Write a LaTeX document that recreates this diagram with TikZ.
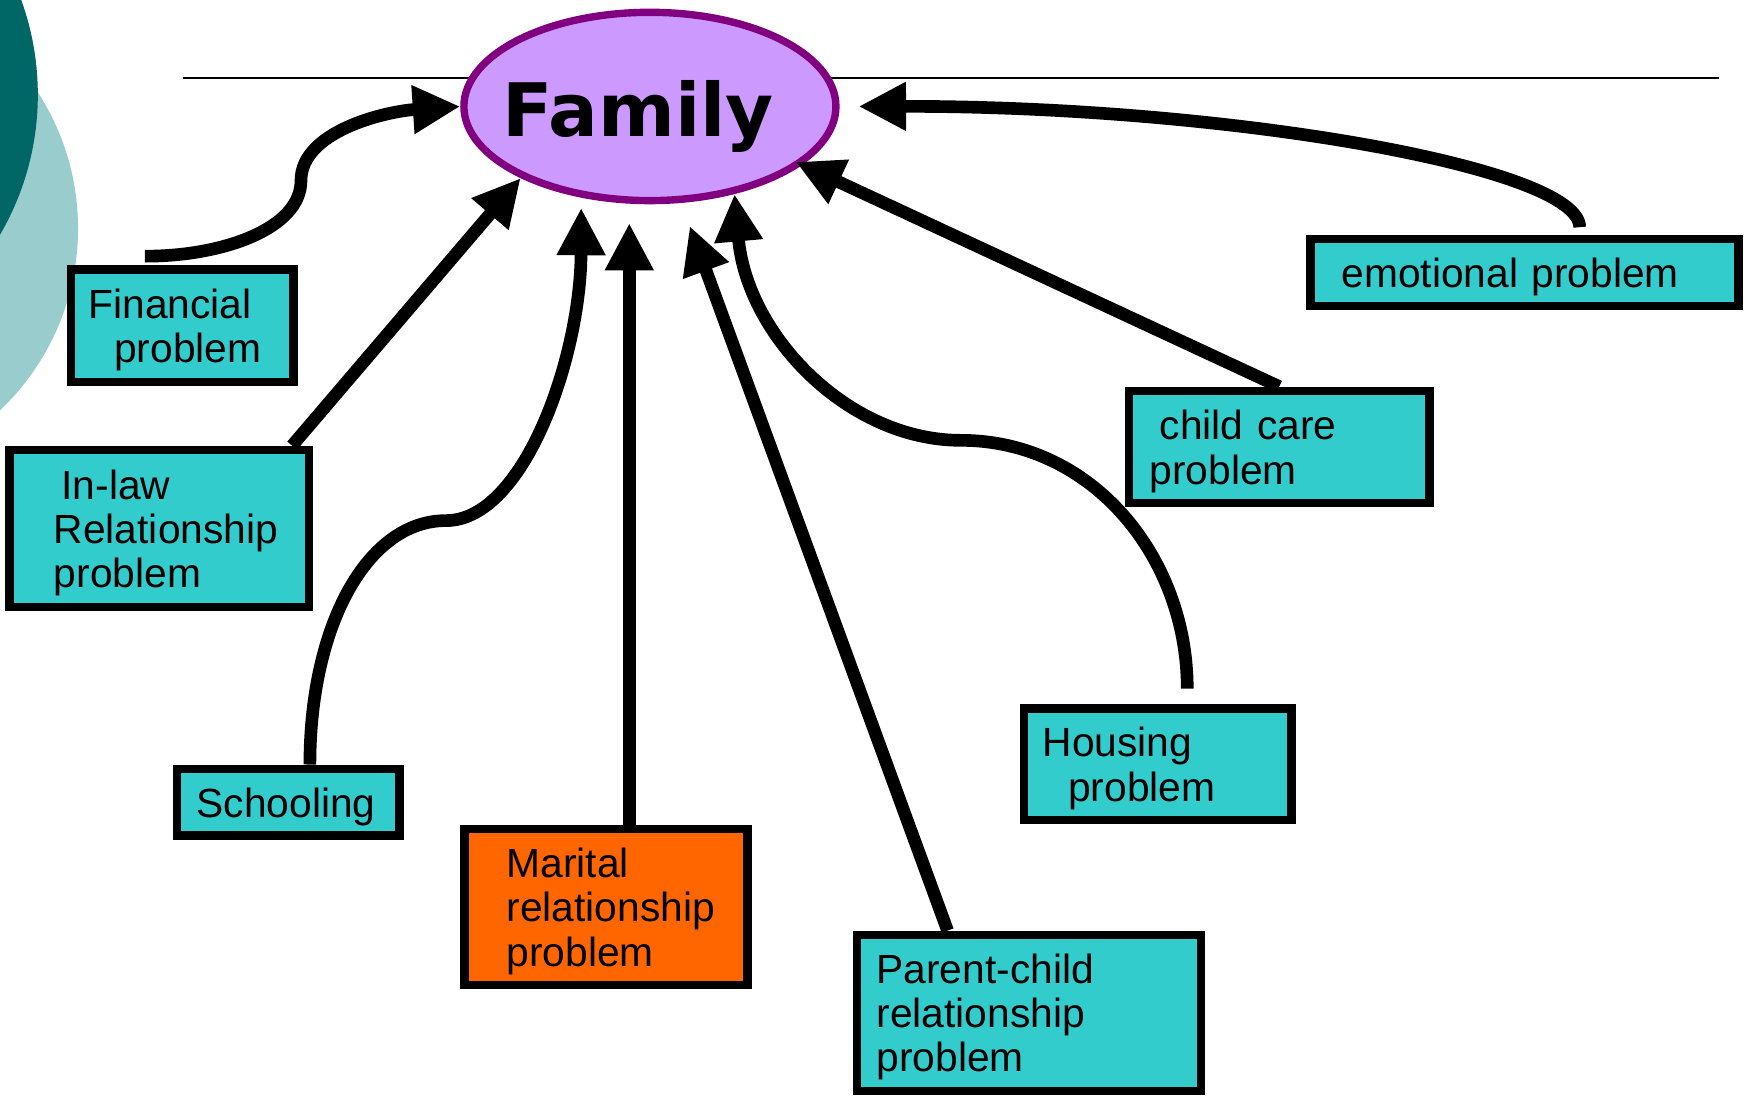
\documentclass[tikz,border=0pt]{standalone}
\usepackage{fontspec}
\usetikzlibrary{calc, shapes.geometric, arrows.meta}
\newfontfamily\boxfont{Liberation Sans}
\newfontfamily\famfont{DejaVu Sans}
\newcommand\nohyph{\hyphenpenalty 10000 \exhyphenpenalty 10000\relax}
\definecolor{BoxTeal}{RGB}{51,204,204}
\definecolor{BoxOrange}{RGB}{255,102,0}
\definecolor{FamFill}{RGB}{204,153,255}
\definecolor{FamLine}{RGB}{128,0,128}
\definecolor{DarkTeal}{RGB}{0,102,102}
\definecolor{PaleTeal}{RGB}{153,204,204}
\tikzset{
  probbox/.style={draw=black, line width=2.4pt, fill=BoxTeal, align=left, inner ysep=0pt,
    font={\boxfont\fontsize{11.6}{12.6}\selectfont\nohyph},
    execute at begin node={\rule{0pt}{10.9pt}}},
  famshape/.style={ellipse, draw=FamLine, fill=FamFill, line width=2.1pt,
    minimum width=105.9pt, minimum height=53.6pt, inner sep=0pt},
  conn/.style={line width=3.6pt, -{Triangle[length=13.5pt,width=13pt]}},
}

\begin{document}
\begin{tikzpicture}[x=0.011148cm, y=-0.011148cm]
  \useasboundingbox (0,0) rectangle (1568,983);

  % --- slide decoration, left edge ---
  \begin{scope}
    \clip (0,0) rectangle (1568,983);
    \fill[PaleTeal] (-155,205) circle (71.4pt);
    \fill[DarkTeal] (-215,85) circle (79pt);
  \end{scope}

  % title rule
  \draw[line width=0.6pt] (164,70) -- (1542,70);

  % --- centre ---
  \node[famshape] (fam) at (583,95.5) {};
  \node[font=\famfont\bfseries\fontsize{21}{25}\selectfont, anchor=base, inner sep=0pt]
    (famword) at (572.5,122) {Family};

  % --- problem boxes ---
  \node[probbox, text width=53.4pt, inner xsep=5pt, minimum height=32pt]
    (fin) at (163.5,292) {Financial\\\hspace*{7.3pt}problem};
  \node[probbox, text width=60.1pt, inner xsep=12.6pt, minimum height=44.7pt]
    (inlaw) at (143,474) {\hspace*{2.2pt}In-law\\Relationship\\problem};
  \node[probbox, text width=52.2pt, inner xsep=5.6pt, minimum height=19pt]
    (school) at (258.5,719.5) {Schooling};
  \node[probbox, fill=BoxOrange, text width=56.6pt, inner xsep=12pt, minimum height=44.4pt]
    (mar) at (543.5,813.5) {Marital\\relationship\\problem};
  \node[probbox, text width=86.8pt, inner xsep=5.6pt, minimum height=44.4pt]
    (par) at (923,908.5) {Parent-child\\relationship\\problem};
  \node[probbox, text width=65.5pt, inner xsep=5.3pt, minimum height=31.7pt]
    (hou) at (1038.5,685.5) {Housing\\\hspace*{7.3pt}problem};
  \node[probbox, text width=73.8pt, inner xsep=5.9pt, minimum height=32pt]
    (child) at (1147.5,401) {\hspace*{2.9pt}child care\\problem};
  \node[probbox, text width=104.2pt, inner xsep=8.8pt, minimum height=19pt]
    (emo) at (1367.5,244.5) {emotional problem};

  % --- arrows into the centre ---
  \draw[conn] ($(fin.north)+(-33.5,-8)$) .. controls (200,230) and (270,205) .. (270,162)
    .. controls (270,118) and (345,100) .. (fam.west);
  \draw[conn] ($(inlaw.north)+(119,0)$) -- (fam.209);
  \draw[conn, shorten >=2.9pt] ($(school.north)+(19.5,0)$) .. controls (278,560) and (330,467) .. (400,467)
    .. controls (470,467) and (521,320) .. (fam.233);
  \draw[conn, shorten >=5.5pt] (fam.258 |- mar.north) -- (fam.258);
  \draw[conn, shorten >=7pt] ($(par.north)+(-73,0)$) -- (fam.288);
  \draw[conn] ($(hou.north)+(26.5,-14)$) .. controls (1065,500) and (980,395) .. (862,395)
    .. controls (760,395) and (670,300) .. (fam.314);
  \draw[conn, shorten >=-2pt] (child.north) -- (fam.339);
  \draw[conn, shorten >=5.4pt] ($(emo.north)+(49.5,-7)$) .. controls (1417,150) and (1100,95) .. (fam.east);

\end{tikzpicture}
\end{document}
